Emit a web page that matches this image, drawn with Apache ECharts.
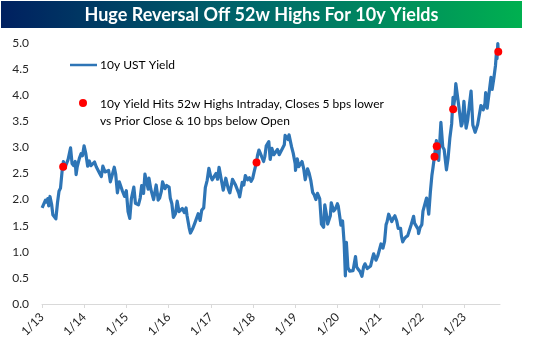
<!DOCTYPE html>
<html>
<head>
<meta charset="utf-8">
<script src="https://cdn.jsdelivr.net/npm/echarts@6/dist/echarts.min.js"></script>
<style>
html,body{margin:0;padding:0;background:#fff;}
#chart{width:533px;height:356px;}
</style>
</head>
<body>
<div id="chart"></div>
<script>
// ---- data ----
const dates = [
 // 2013
 '2013-01-02','2013-01-15','2013-01-31','2013-02-08','2013-02-20','2013-02-28','2013-03-11','2013-03-25','2013-04-05','2013-04-18',
 '2013-05-01','2013-05-15','2013-05-28','2013-06-10','2013-06-24','2013-07-05','2013-07-15','2013-07-31','2013-08-15','2013-08-30',
 '2013-09-05','2013-09-18','2013-10-01','2013-10-15','2013-10-23','2013-11-01','2013-11-20','2013-12-05','2013-12-17','2013-12-31',
 // 2014
 '2014-01-02','2014-01-15','2014-01-31','2014-02-14','2014-02-28','2014-03-14','2014-03-31','2014-04-15','2014-04-30','2014-05-15',
 '2014-05-29','2014-06-11','2014-06-30','2014-07-15','2014-07-31','2014-08-15','2014-08-29','2014-09-18','2014-09-30','2014-10-15',
 '2014-10-31','2014-11-14','2014-11-28','2014-12-16','2014-12-31',
 // 2015
 '2015-01-15','2015-01-30','2015-02-13','2015-02-27','2015-03-06','2015-03-20','2015-03-31','2015-04-15','2015-04-30','2015-05-13',
 '2015-05-29','2015-06-10','2015-06-26','2015-07-08','2015-07-15','2015-07-31','2015-08-14','2015-08-24','2015-09-15','2015-09-30',
 '2015-10-02','2015-10-15','2015-10-30','2015-11-09','2015-11-30','2015-12-15','2015-12-29',
 // 2016
 '2016-01-05','2016-01-15','2016-01-29','2016-02-11','2016-02-29','2016-03-15','2016-03-31','2016-04-15','2016-04-29','2016-05-16',
 '2016-05-31','2016-06-08','2016-06-27','2016-07-08','2016-07-29','2016-08-15','2016-08-31','2016-09-13','2016-09-30','2016-10-14',
 '2016-10-31','2016-11-08','2016-11-14','2016-11-30','2016-12-15','2016-12-30',
 // 2017
 '2017-01-13','2017-01-31','2017-02-15','2017-02-28','2017-03-13','2017-03-31','2017-04-18','2017-04-28','2017-05-10','2017-05-31',
 '2017-06-14','2017-06-30','2017-07-07','2017-07-31','2017-08-15','2017-08-31','2017-09-07','2017-09-29','2017-10-13','2017-10-26',
 '2017-11-15','2017-11-30','2017-12-15','2017-12-29',
 // 2018
 '2018-01-12','2018-01-31','2018-02-08','2018-02-21','2018-03-06','2018-03-21','2018-04-02','2018-04-13','2018-04-25','2018-05-17',
 '2018-05-29','2018-06-13','2018-06-29','2018-07-16','2018-07-31','2018-08-15','2018-08-31','2018-09-14','2018-09-28','2018-10-05',
 '2018-10-19','2018-10-31','2018-11-08','2018-11-30','2018-12-14','2018-12-31',
 // 2019
 '2019-01-03','2019-01-18','2019-01-31','2019-02-15','2019-02-28','2019-03-15','2019-03-28','2019-04-17','2019-04-30','2019-05-15',
 '2019-05-31','2019-06-14','2019-06-28','2019-07-12','2019-07-31','2019-08-15','2019-08-30','2019-09-03','2019-09-13','2019-09-30',
 '2019-10-08','2019-10-31','2019-11-08','2019-11-29','2019-12-13','2019-12-31',
 // 2020
 '2020-01-08','2020-01-17','2020-01-31','2020-02-14','2020-02-28','2020-03-09','2020-03-18','2020-03-31','2020-04-15','2020-04-30',
 '2020-05-15','2020-05-29','2020-06-05','2020-06-15','2020-06-30','2020-07-15','2020-07-31','2020-08-14','2020-08-26','2020-09-15',
 '2020-09-30','2020-10-14','2020-10-30','2020-11-09','2020-11-30','2020-12-15','2020-12-31',
 // 2021
 '2021-01-12','2021-01-29','2021-02-12','2021-02-25','2021-03-05','2021-03-19','2021-03-31','2021-04-15','2021-04-30','2021-05-12',
 '2021-05-28','2021-06-10','2021-06-30','2021-07-08','2021-07-19','2021-07-30','2021-08-13','2021-08-31','2021-09-15','2021-09-30',
 '2021-10-21','2021-10-29','2021-11-12','2021-11-30','2021-12-03','2021-12-15','2021-12-31',
 // 2022
 '2022-01-10','2022-01-24','2022-02-10','2022-02-16','2022-03-01','2022-03-15','2022-03-28','2022-04-06','2022-04-20','2022-05-06',
 '2022-05-09','2022-05-26','2022-06-14','2022-06-30','2022-07-12','2022-08-01','2022-08-15','2022-08-31','2022-09-15','2022-09-27',
 '2022-09-28','2022-10-13','2022-10-21','2022-11-07','2022-11-17','2022-12-07','2022-12-15','2022-12-30',
 // 2023
 '2023-01-18','2023-01-31','2023-02-15','2023-03-02','2023-03-17','2023-03-24','2023-04-06','2023-04-28','2023-05-12','2023-05-26',
 '2023-06-15','2023-06-30','2023-07-06','2023-07-19','2023-07-31','2023-08-21','2023-08-31','2023-09-15','2023-09-29','2023-10-06',
 '2023-10-12','2023-10-19','2023-10-23'
];
const yields = [
 // 2013
 1.84,1.84,1.99,1.95,2.02,1.88,2.06,1.91,1.71,1.70,
 1.63,1.94,2.16,2.22,2.55,2.73,2.59,2.60,2.77,2.78,
 2.99,2.69,2.65,2.73,2.48,2.62,2.79,2.88,2.84,3.03,
 // 2014
 3.00,2.88,2.64,2.74,2.65,2.65,2.72,2.63,2.65,2.50,
 2.44,2.64,2.53,2.55,2.56,2.34,2.34,2.62,2.49,2.13,
 2.34,2.32,2.16,2.06,2.17,
 // 2015
 1.77,1.64,2.02,2.00,2.24,1.93,1.92,1.90,2.03,2.27,
 2.12,2.49,2.47,2.20,2.41,2.20,2.20,2.00,2.28,2.04,
 1.99,2.03,2.16,2.34,2.21,2.27,2.30,
 // 2016
 2.24,2.03,1.92,1.66,1.73,1.97,1.77,1.75,1.83,1.75,
 1.84,1.70,1.46,1.36,1.45,1.55,1.58,1.73,1.60,1.80,
 1.84,1.86,2.23,2.37,2.60,2.45,
 // 2017
 2.38,2.45,2.50,2.39,2.62,2.40,2.18,2.28,2.41,2.21,
 2.13,2.30,2.39,2.29,2.27,2.12,2.05,2.33,2.28,2.46,
 2.38,2.42,2.35,2.41,
 // 2018
 2.55,2.72,2.84,2.95,2.88,2.89,2.73,2.83,3.03,3.11,
 2.77,2.98,2.86,2.85,2.96,2.86,2.86,2.99,3.05,3.23,
 3.19,3.15,3.24,3.01,2.89,2.69,
 // 2019
 2.56,2.78,2.63,2.66,2.73,2.59,2.38,2.59,2.51,2.37,
 2.14,2.09,2.00,2.12,2.02,1.53,1.50,1.47,1.90,1.68,
 1.53,1.69,1.94,1.78,1.82,1.92,
 // 2020
 1.87,1.84,1.51,1.59,1.15,0.54,1.18,0.70,0.63,0.64,
 0.64,0.65,0.91,0.71,0.66,0.62,0.53,0.71,0.77,0.68,
 0.69,0.73,0.88,0.96,0.84,0.92,0.93,
 // 2021
 1.15,1.07,1.20,1.52,1.57,1.72,1.74,1.58,1.65,1.69,
 1.59,1.45,1.45,1.30,1.19,1.24,1.28,1.31,1.30,1.52,
 1.68,1.55,1.58,1.43,1.35,1.46,1.52,
 // 2022
 1.78,1.75,2.03,2.04,1.72,2.15,2.46,2.60,2.84,3.13,
 3.03,2.75,3.48,3.01,2.96,2.57,2.79,3.19,3.45,3.96,
 3.73,3.95,4.22,4.21,3.77,3.41,3.45,3.88,
 // 2023
 3.37,3.51,3.81,4.08,3.43,3.38,3.29,3.44,3.46,3.80,
 3.72,3.84,4.05,3.75,3.96,4.34,4.11,4.33,4.57,4.78,
 4.70,4.99,4.84
];
const hitDates  = ['2013-07-03','2018-01-31','2022-04-20','2022-05-09','2022-09-28','2023-10-23'];
const hitYields = [2.63, 2.71, 2.82, 3.02, 3.73, 4.83];
const tickDates  = ['2013-01-01','2014-01-01','2015-01-01','2016-01-01','2017-01-01','2018-01-01','2019-01-01','2020-01-01','2021-01-01','2022-01-01','2023-01-01'];
const tickLabels = ['1/13','1/14','1/15','1/16','1/17','1/18','1/19','1/20','1/21','1/22','1/23'];
const axisStart = '2013-01-01', axisEnd = '2023-11-07';
const titleText = 'Huge Reversal Off 52w Highs For 10y Yields';
const legendLine = '10y UST Yield';
const legendDot1 = '10y Yield Hits 52w Highs Intraday, Closes 5 bps lower';
const legendDot2 = 'vs Prior Close & 10 bps below Open';

// ---- helpers ----
function toYear(s){
  const p = s.split('-').map(Number);
  const a = Date.UTC(p[0],0,1), b = Date.UTC(p[0]+1,0,1);
  return p[0] + (Date.UTC(p[0],p[1]-1,p[2]) - a) / (b - a);
}
const tickVals = tickDates.map(toYear);
const lineData = dates.map((d,i)=>[toYear(d), yields[i]]);
const hitData = hitDates.map((d,i)=>[toYear(d), hitYields[i]]);

const FONT = 'Lato, "Open Sans", sans-serif';
const BLUE = '#2e75b6';
const chart = echarts.init(document.getElementById('chart'), null, {renderer:'canvas'});
chart.setOption({
  animation:false,
  backgroundColor:'#ffffff',
  textStyle:{fontFamily:FONT},
  grid:{left:42,right:33,top:43,bottom:52,containLabel:false,outerBoundsMode:'none'},
  xAxis:{
    type:'value',
    min:toYear(axisStart), max:toYear(axisEnd),
    axisLine:{show:true,lineStyle:{color:'#d9d9d9',width:1}},
    axisTick:{show:true,length:4,lineStyle:{color:'#d9d9d9'},customValues:tickVals},
    splitLine:{show:false},
    axisLabel:{
      customValues:tickVals,
      rotate:45, margin:11,
      fontSize:12, color:'#262626', fontFamily:FONT,
      formatter:function(v){
        let best=-1, bd=1e9;
        tickVals.forEach((t,i)=>{const dd=Math.abs(t-v); if(dd<bd){bd=dd;best=i;}});
        return bd<0.01 ? tickLabels[best] : '';
      }
    }
  },
  yAxis:{
    type:'value', min:0, max:5, interval:0.5,
    axisLine:{show:false}, axisTick:{show:false}, splitLine:{show:false},
    axisLabel:{fontSize:12,color:'#262626',margin:13,fontFamily:FONT,formatter:v=>v.toFixed(1)}
  },
  series:[
    {type:'line', name:legendLine, data:lineData, symbol:'none', smooth:false,
     lineStyle:{color:BLUE,width:3.2,join:'round'}, z:2},
    {type:'scatter', name:'hits', data:hitData, symbol:'circle', symbolSize:8,
     itemStyle:{color:'#ff0000',opacity:1}, z:5}
  ],
  graphic:[
    {type:'rect', left:1, top:1, shape:{width:521,height:27}, z:10,
     style:{fill:new echarts.graphic.LinearGradient(0,0,1,0,[{offset:0,color:'#002060'},{offset:0.5,color:'#006a6a'},{offset:1,color:'#00b050'}])}},
    {type:'text', x:261.5, y:15, z:11,
     style:{text:titleText, fill:'#ffffff', font:'bold 18px '+FONT, align:'center', verticalAlign:'middle'}},
    {type:'line', shape:{x1:70,y1:65,x2:97,y2:65}, z:10, style:{stroke:BLUE,lineWidth:2.5}},
    {type:'text', x:100, y:65, z:10,
     style:{text:legendLine, fill:'#000', font:'12px '+FONT, align:'left', verticalAlign:'middle'}},
    {type:'circle', shape:{cx:83,cy:103,r:4}, z:10, style:{fill:'#ff0000'}},
    {type:'text', x:100, y:104, z:10,
     style:{text:legendDot1, fill:'#000', font:'12px '+FONT, align:'left', verticalAlign:'middle'}},
    {type:'text', x:100, y:121, z:10,
     style:{text:legendDot2, fill:'#000', font:'12px '+FONT, align:'left', verticalAlign:'middle'}}
  ]
});
</script>
</body>
</html>
